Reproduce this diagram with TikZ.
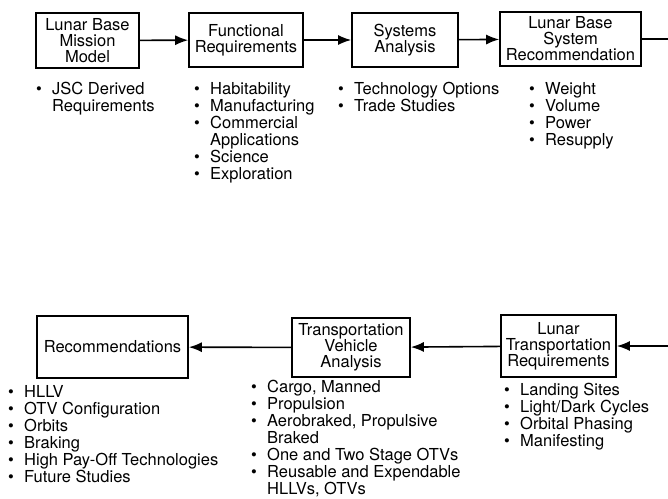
\documentclass[tikz,border=0pt]{standalone}
\usepackage{fontspec}
\setmainfont{TeX Gyre Heros}
\usepackage{tikz}
\usetikzlibrary{
  positioning,
  arrows.meta
}
\tikzstyle{stage}=[draw, line width=1.6pt, align=center, inner sep=2pt, font=\fontsize{16.5}{16}\selectfont]
\tikzstyle{flow}=[-{Latex[length=13pt,width=10pt]}, line width=1.6pt]
\tikzstyle{plain}=[line width=1.6pt]
\tikzstyle{notes}=[anchor=north west, align=left, inner sep=0pt, font=\fontsize{16.5}{17}\selectfont]
\newcommand{\itm}[1]{\makebox[16pt][l]{\textbullet}#1}
\newcommand{\cont}[1]{\hspace*{16pt}#1}

\begin{document}
\begin{tikzpicture}[x=1pt, y=-1pt]
    \useasboundingbox (0,0) rectangle (668,498);

    % 上段のボックス
    \node[stage, minimum width=103pt, minimum height=55pt] (mission) at (87.5,40.5) {Lunar Base\\Mission\\Model};
    \node[stage, minimum width=114pt, minimum height=54pt] (funcreq) at (246,40) {Functional\\Requirements};
    \node[stage, minimum width=106pt, minimum height=54pt] (sysana) at (405,40) {Systems\\Analysis};
    \node[stage, minimum width=141pt, minimum height=54pt] (sysrec) at (570.5,39) {Lunar Base\\System\\Recommendation};

    % 下段のボックス
    \node[stage, minimum width=151pt, minimum height=62pt] (recom) at (112.5,347) {Recommendations};
    \node[stage, minimum width=118pt, minimum height=59pt] (vehana) at (351,347.5) {Transportation\\Vehicle\\Analysis};
    \node[stage, minimum width=115pt, minimum height=62pt] (transreq) at (558.5,346) {Lunar\\Transportation\\Requirements};

    % 右端の端点
    \path (sysrec.east) ++(27,0) coordinate (topR);
    \path (transreq.east) ++(52,0) coordinate (botR);

    % 矢印の描画
    \draw[flow] (mission) -- (funcreq);
    \draw[flow] (funcreq) -- (sysana);
    \draw[flow] (sysana) -- (sysrec);
    \draw[plain] (sysrec) -- (topR);
    \draw[flow] (botR) -- (transreq);
    \draw[flow] (transreq) -- (vehana);
    \draw[flow] (vehana) -- (recom);

    % 上段の項目
    \node[notes] (missionnotes) at (36,82) {\itm{JSC Derived}\\\cont{Requirements}};
    \node[notes] (funcnotes) at (194,82) {\itm{Habitability}\\\itm{Manufacturing}\\\itm{Commercial}\\\cont{Applications}\\\itm{Science}\\\itm{Exploration}};
    \node[notes] (sysananotes) at (338,82) {\itm{Technology Options}\\\itm{Trade Studies}};
    \node[notes] (sysrecnotes) at (529,82) {\itm{Weight}\\\itm{Volume}\\\itm{Power}\\\itm{Resupply}};

    % 下段の項目
    \node[notes] (recomnotes) at (8,385) {\itm{HLLV}\\\itm{OTV Configuration}\\\itm{Orbits}\\\itm{Braking}\\\itm{High Pay-Off Technologies}\\\itm{Future Studies}};
    \node[notes] (vehnotes) at (251,380) {\itm{Cargo, Manned}\\\itm{Propulsion}\\\itm{Aerobraked, Propulsive}\\\cont{Braked}\\\itm{One and Two Stage OTVs}\\\itm{Reusable and Expendable}\\\cont{HLLVs, OTVs}};
    \node[notes] (transnotes) at (504,383) {\itm{Landing Sites}\\\itm{Light/Dark Cycles}\\\itm{Orbital Phasing}\\\itm{Manifesting}};
\end{tikzpicture}
\end{document}
